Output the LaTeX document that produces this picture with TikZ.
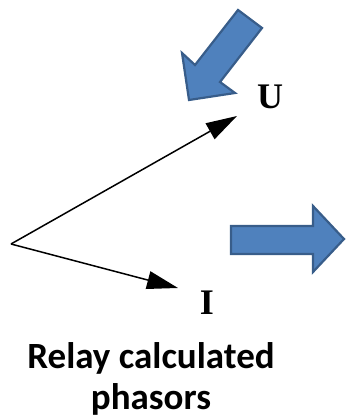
\documentclass[tikz,border=0pt]{standalone}
\usepackage{fontspec}
\setmainfont{Liberation Serif}
\newfontfamily\labelfont{Carlito}
\usetikzlibrary{arrows.meta}
\definecolor{arrowfill}{HTML}{4F81BD}
\definecolor{arrowline}{HTML}{385D8A}
\tikzset{
  phasor/.style={black, line width=1.5pt, -{Triangle[length=31pt,width=18pt]}},
  phasorlabel/.style={font=\bfseries\fontsize{36}{40}\selectfont},
  blockarrow/.style={fill=arrowfill, draw=arrowline, line width=2.2pt, line join=miter},
}
\begin{document}
\begin{tikzpicture}[x=1pt,y=-1pt]
\useasboundingbox (0,0) rectangle (345,419);
% phasors from the common origin
\coordinate (O) at (11,244);
\coordinate (Utip) at (237,116);
\coordinate (Itip) at (178,288);
\draw[phasor] (O) -- (Utip);
\draw[phasor] (O) -- (Itip);
\node[phasorlabel] (Ulabel) at (270,97) {U};
\node[phasorlabel] (Ilabel) at (207,303) {I};

% block arrows
\draw[blockarrow] (238,10) -- (262,28) -- (220,82) -- (235,93) -- (189,100)
  -- (182,53) -- (195,65) -- cycle;
\draw[blockarrow] (231,226) -- (313,226) -- (313,206) -- (344,239) -- (313,272)
  -- (313,254) -- (231,254) -- cycle;

% caption
\node[font=\labelfont\bfseries\fontsize{37}{41}\selectfont, align=center] (caption)
  at (151,379) {Relay calculated\\phasors};
\end{tikzpicture}
\end{document}
